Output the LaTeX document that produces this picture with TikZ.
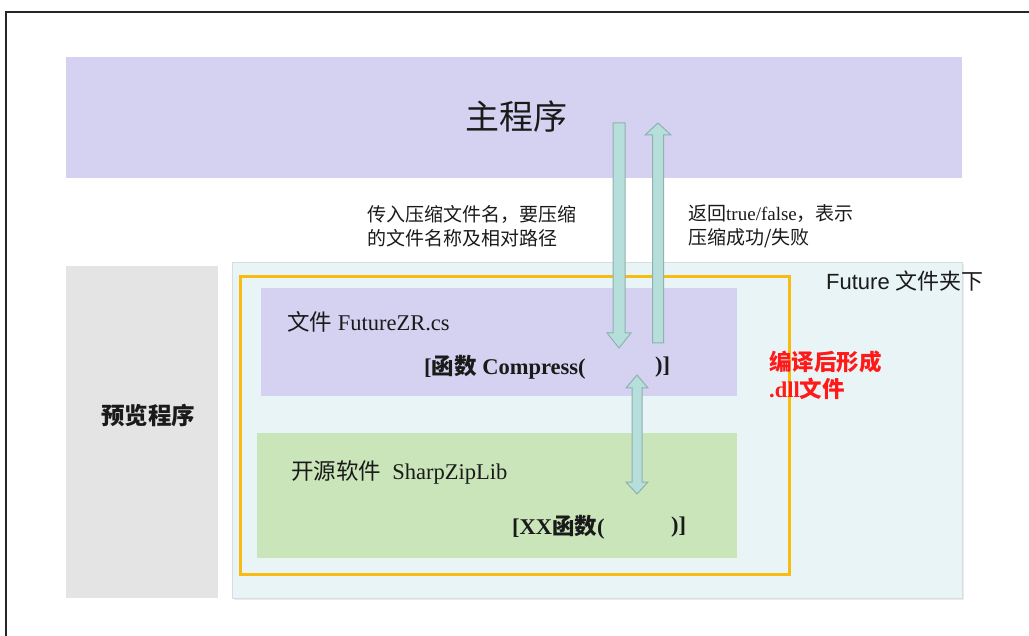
\documentclass[tikz,border=0pt]{standalone}
\usepackage{fontspec}
\setmainfont{Liberation Serif}
\newfontfamily\cjk{Noto Sans CJK SC}
\newfontfamily\arialf{Liberation Sans}
\usetikzlibrary{calc}
\definecolor{lav}{HTML}{D4D2F0}
\definecolor{greybox}{HTML}{E4E4E4}
\definecolor{folder}{HTML}{E9F4F6}
\definecolor{folderline}{HTML}{D6DEE0}
\definecolor{orangeln}{HTML}{F8BC10}
\definecolor{greenbox}{HTML}{CBE5BA}
\definecolor{arrfill}{HTML}{B6DEDB}
\definecolor{arrline}{HTML}{8FB0AF}
\definecolor{redtxt}{HTML}{FF1A1A}
\definecolor{txt}{HTML}{1A1A1A}
\tikzset{
  blk/.style={inner sep=0pt, outer sep=0pt, text=txt},
  barrow/.style={fill=arrfill, draw=arrline, line width=1pt, line join=miter},
  lbl/.style={inner sep=0pt, anchor=west, text=txt},
}
\begin{document}
\begin{tikzpicture}[x=1pt,y=-1pt]
\useasboundingbox (0,0) rectangle (1029,636);
% outer frame (top and left only)
\draw[line width=2pt, black!85] (6,646) -- (6,12) -- (1035,12);
% main program
\path[fill=lav] (66,57) rectangle (962,178);
\node[blk, font=\cjk\fontsize{34}{38}\selectfont] (main) at (516,117) {主程序};
% preview program
\path[fill=greybox] (66,266) rectangle (218,598);
\node[blk, font=\cjk\bfseries\fontsize{23.5}{27}\selectfont] (prev) at (148,416) {预览程序};
% future folder
\path[fill=black!8] (234,264) rectangle (964,600);
\path[fill=folder, draw=folderline, line width=0.8pt] (232,262) rectangle (962,598);
\node[lbl, font=\fontsize{22}{26}\selectfont] (fut) at (826,281) {\arialf Future \cjk 文件夹下};
% orange frame
\draw[orangeln, line width=3pt] (240,277) rectangle (789,574);
% file box
\path[fill=lav] (261,288) rectangle (737,396);
\node[lbl, font=\fontsize{22.5}{26}\selectfont] (file) at (287,322) {{\cjk 文件} FutureZR.cs};
\node[lbl, font=\bfseries\fontsize{22.5}{26}\selectfont] (comp) at (424,367) {[{\cjk 函数} Compress(};
\node[lbl, font=\bfseries\fontsize{22.5}{26}\selectfont] (compend) at (655,367) {)]};
% green box
\path[fill=greenbox] (257,433) rectangle (737,558);
\node[lbl, font=\fontsize{22.5}{26}\selectfont] (lib) at (291,472) {{\cjk 开源软件}\hspace{0.5em}SharpZipLib};
\node[lbl, font=\bfseries\fontsize{22.5}{26}\selectfont] (xx) at (512,527) {[XX{\cjk 函数}(};
\node[lbl, font=\bfseries\fontsize{22.5}{26}\selectfont] (xxend) at (671,527) {)]};
% red note
\node[lbl, text=redtxt, align=left, font=\cjk\bfseries\fontsize{22.5}{27}\selectfont] (note) at (769,375) {编译后形成\\{\rmfamily .dll}文件};
% descriptions
\node[lbl, align=left, font=\cjk\fontsize{19}{23.5}\selectfont] (sendtxt) at (367,226) {传入压缩文件名，要压缩\\的文件名称及相对路径};
\node[lbl, align=left, font=\cjk\fontsize{19}{23.5}\selectfont] (rettxt) at (688,226) {返回{\rmfamily true/false}，表示\\压缩成功/失败};
% arrows
\coordinate (dtop) at (619,123);
\coordinate (dtip) at (619,348);
\path[barrow] ($(dtop)+(-6,0)$) -- ($(dtop)+(6,0)$) -- ($(dtip)+(6,-15)$) -- ($(dtip)+(12,-15)$) -- (dtip) -- ($(dtip)+(-12,-15)$) -- ($(dtip)+(-6,-15)$) -- cycle;
\coordinate (utip) at (658,123);
\coordinate (ubot) at (658,343);
\path[barrow] ($(ubot)+(-5.5,0)$) -- ($(ubot)+(5.5,0)$) -- ($(utip)+(5.5,12)$) -- ($(utip)+(13,12)$) -- (utip) -- ($(utip)+(-13,12)$) -- ($(utip)+(-5.5,12)$) -- cycle;
\coordinate (btop) at (637,375);
\coordinate (bbot) at (637,494);
\path[barrow] (btop) -- ($(btop)+(11,13)$) -- ($(btop)+(5,13)$) -- ($(bbot)+(5,-12)$) -- ($(bbot)+(11,-12)$) -- (bbot) -- ($(bbot)+(-11,-12)$) -- ($(bbot)+(-5,-12)$) -- ($(btop)+(-5,13)$) -- ($(btop)+(-11,13)$) -- cycle;
\end{tikzpicture}
\end{document}
